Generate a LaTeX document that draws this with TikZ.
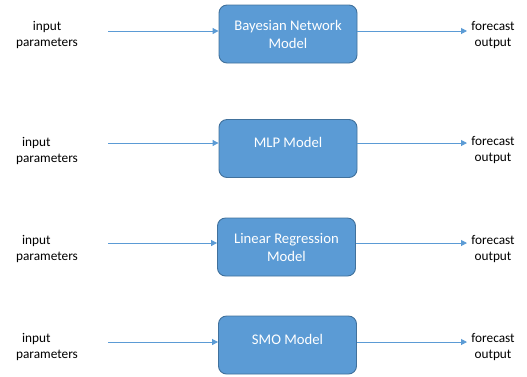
\documentclass[tikz,border=0pt]{standalone}
\usepackage{fontspec}
\setmainfont{Carlito}
\usetikzlibrary{arrows.meta}
\definecolor{boxfill}{HTML}{5B9BD5}
\definecolor{boxline}{HTML}{41719C}
\definecolor{arrowc}{HTML}{5B9BD5}
\tikzset{
  model/.style={draw=boxline, line width=0.9pt, fill=boxfill, rounded corners=8pt,
    minimum width=138pt, minimum height=58pt, text=white, align=center,
    font=\fontsize{14.7}{18}\selectfont, inner sep=0pt},
  outtext/.style={align=center, font=\fontsize{13.3}{16}\selectfont, inner sep=0pt},
  intext/.style={align=left, font=\fontsize{13.3}{16}\selectfont, inner sep=0pt},
  flow/.style={draw=arrowc, line width=1pt, -{Triangle[length=6pt,width=6pt]}}
}
\begin{document}
\begin{tikzpicture}[x=1pt,y=-1pt]
\useasboundingbox (0,0) rectangle (527,376);
% row 1
\node[model] (b1) at (288,34) {Bayesian Network\\Model};
\node[outtext] (i1) at (47,35) {input\\parameters};
\node[outtext] (o1) at (493,35.5) {forecast\\output};
\coordinate (s1) at (108,31);
\coordinate (e1) at (467,31);
\draw[flow] (s1) -- (s1 -| b1.west);
\draw[flow] (b1.east |- e1) -- (e1);
% row 2
\node[model, text depth=13pt] (b2) at (288,148.5) {MLP Model};
\node[intext] (i2) at (47,150.5) {\hspace*{6pt}input\\parameters};
\node[outtext] (o2) at (493,150.5) {forecast\\output};
\coordinate (s2) at (108,143);
\coordinate (e2) at (467,143);
\draw[flow] (s2) -- (s2 -| b2.west);
\draw[flow] (b2.east |- e2) -- (e2);
% row 3
\node[model] (b3) at (286.5,247) {Linear Regression\\Model};
\node[intext] (i3) at (47,249) {\hspace*{6pt}input\\parameters};
\node[outtext] (o3) at (493,249) {forecast\\output};
\coordinate (s3) at (108,243);
\coordinate (e3) at (467,243);
\draw[flow] (s3) -- (s3 -| b3.west);
\draw[flow] (b3.east |- e3) -- (e3);
% row 4
\node[model, text depth=12pt] (b4) at (287.5,345) {SMO Model};
\node[intext] (i4) at (47,347) {\hspace*{6pt}input\\parameters};
\node[outtext] (o4) at (493,347) {forecast\\output};
\coordinate (s4) at (108,342);
\coordinate (e4) at (467,342);
\draw[flow] (s4) -- (s4 -| b4.west);
\draw[flow] (b4.east |- e4) -- (e4);
\end{tikzpicture}
\end{document}
